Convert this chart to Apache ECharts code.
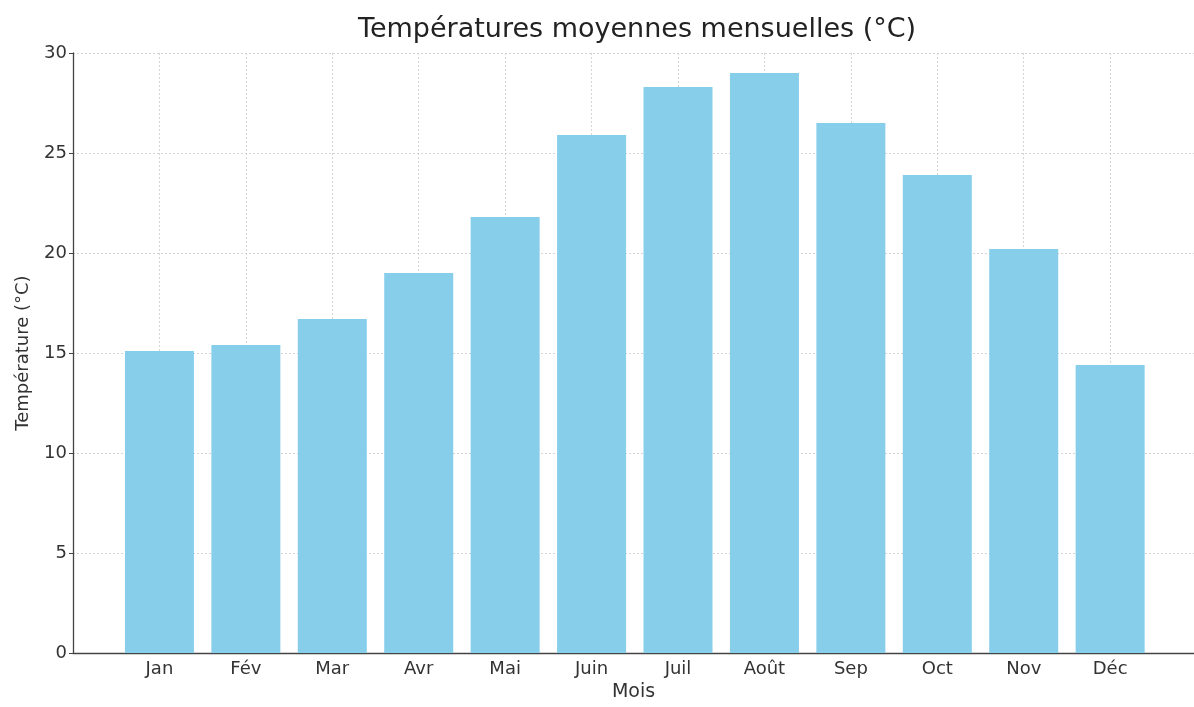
<!DOCTYPE html>
<html>
<head>
<meta charset="utf-8">
<script src="https://cdn.jsdelivr.net/npm/echarts@6/dist/echarts.min.js"></script>
<style>
  html, body { margin: 0; padding: 0; background: #fff; }
  #chart { width: 1194px; height: 707px; }
</style>
</head>
<body>
<div id="chart"></div>
<script>
// données
const months = ['Jan', 'Fév', 'Mar', 'Avr', 'Mai', 'Juin', 'Juil', 'Août', 'Sep', 'Oct', 'Nov', 'Déc']
const temps = [15.1, 15.4, 16.7, 19.0, 21.8, 25.9, 28.3, 29.0, 26.5, 23.9, 20.2, 14.4]
const yTicks = [0, 5, 10, 15, 20, 25, 30]

const chart = echarts.init(document.getElementById('chart'))
const font = 'DejaVu Sans'

const option = {
  animation: false,
  textStyle: { fontFamily: font },
  title: {
    text: 'Températures moyennes mensuelles (°C)',
    left: 353,
    top: 11,
    textStyle: { fontFamily: font, fontSize: 27, fontWeight: 'normal', color: '#222' }
  },
  grid: { left: 73, right: 0, top: 53, bottom: 52 },
  xAxis: {
    type: 'value',
    min: -1,
    max: 11.97,
    interval: 1,
    name: 'Mois',
    nameLocation: 'middle',
    nameGap: 27,
    nameTextStyle: { fontFamily: font, fontSize: 19, color: '#333' },
    axisLine: { show: true, onZero: false, lineStyle: { color: '#444', width: 1.3 } },
    axisTick: { show: true, inside: true, length: 5, lineStyle: { color: '#444' } },
    axisLabel: {
      fontFamily: font, fontSize: 18, color: '#333', margin: 7,
      showMaxLabel: false,
      formatter: (v) => months[v] || ''
    },
    splitLine: { show: true, lineStyle: { color: '#d4d4d4', type: [2, 2], width: 1 } }
  },
  yAxis: {
    type: 'value',
    min: yTicks[0],
    max: yTicks[yTicks.length - 1],
    interval: 5,
    name: 'Température (°C)',
    nameLocation: 'middle',
    nameRotate: 90,
    nameGap: 41,
    nameTextStyle: { fontFamily: font, fontSize: 18, color: '#333' },
    axisLine: { show: true, onZero: false, lineStyle: { color: '#444', width: 1.3 } },
    axisTick: { show: true, inside: false, length: 4, lineStyle: { color: '#444' } },
    axisLabel: { fontFamily: font, fontSize: 18, color: '#333', margin: 6 },
    splitLine: { show: true, lineStyle: { color: '#d4d4d4', type: [2, 2], width: 1 } }
  },
  series: [
    {
      type: 'bar',
      data: temps.map((v, i) => [i, v]),
      barWidth: 69,
      itemStyle: { color: '#87ceeb' },
      z: 1
    }
  ]
}

chart.setOption(option)
</script>
</body>
</html>
